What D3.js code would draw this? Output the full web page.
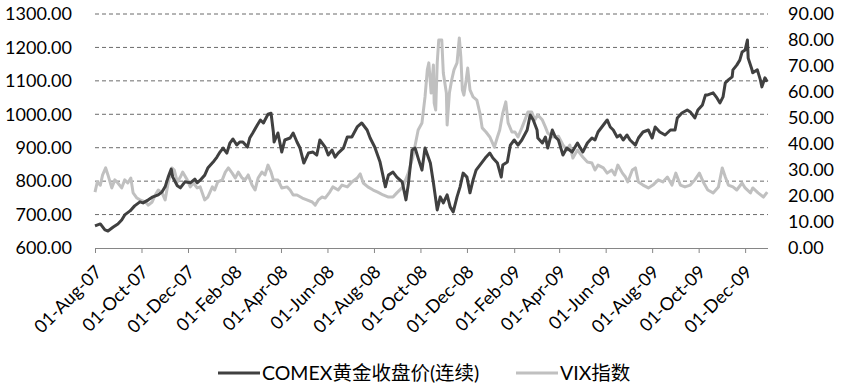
<!DOCTYPE html>
<html>
<head>
<meta charset="utf-8">
<script src="https://cdn.jsdelivr.net/npm/d3@7"></script>
<style>
  body { margin: 0; background: #fff; }
  svg text { font-family: Lato, "Noto Sans CJK SC", sans-serif; fill: #000; }
</style>
</head>
<body>
<svg id="chart" width="844" height="388"></svg>
<script>
"use strict";

// gold close (COMEX continuous)
let goldDates = [
  "2007-08-01", "2007-08-08", "2007-08-14", "2007-08-18", "2007-08-25", "2007-08-31", "2007-09-05", "2007-09-09",
  "2007-09-16", "2007-09-22", "2007-09-29", "2007-10-03", "2007-10-10", "2007-10-16", "2007-10-23", "2007-10-28",
  "2007-11-01", "2007-11-05", "2007-11-09", "2007-11-11", "2007-11-17", "2007-11-21", "2007-11-27", "2007-12-04",
  "2007-12-10", "2007-12-13", "2007-12-17", "2007-12-23", "2007-12-27", "2008-01-03", "2008-01-08", "2008-01-12",
  "2008-01-16", "2008-01-21", "2008-01-25", "2008-01-29", "2008-02-03", "2008-02-07", "2008-02-11", "2008-02-17",
  "2008-02-20", "2008-02-24", "2008-03-01", "2008-03-05", "2008-03-09", "2008-03-11", "2008-03-15", "2008-03-19",
  "2008-03-22", "2008-03-23", "2008-03-28", "2008-04-02", "2008-04-06", "2008-04-13", "2008-04-17", "2008-04-22",
  "2008-04-26", "2008-05-01", "2008-05-07", "2008-05-13", "2008-05-18", "2008-05-22", "2008-05-29", "2008-06-02",
  "2008-06-07", "2008-06-11", "2008-06-15", "2008-06-22", "2008-06-27", "2008-07-03", "2008-07-10", "2008-07-16",
  "2008-07-23", "2008-07-27", "2008-08-02", "2008-08-09", "2008-08-16", "2008-08-20", "2008-08-26", "2008-08-31",
  "2008-09-07", "2008-09-12", "2008-09-15", "2008-09-20", "2008-09-24", "2008-09-28", "2008-10-03", "2008-10-07",
  "2008-10-14", "2008-10-18", "2008-10-23", "2008-10-27", "2008-10-31", "2008-11-05", "2008-11-09", "2008-11-13",
  "2008-11-18", "2008-11-22", "2008-11-26", "2008-12-01", "2008-12-05", "2008-12-09", "2008-12-13", "2008-12-18",
  "2008-12-25", "2008-12-31", "2009-01-04", "2009-01-10", "2009-01-15", "2009-01-17", "2009-01-23", "2009-01-27",
  "2009-02-01", "2009-02-06", "2009-02-11", "2009-02-18", "2009-02-22", "2009-02-26", "2009-03-03", "2009-03-04",
  "2009-03-10", "2009-03-14", "2009-03-17", "2009-03-23", "2009-03-27", "2009-03-31", "2009-04-06", "2009-04-11",
  "2009-04-18", "2009-04-25", "2009-04-28", "2009-05-02", "2009-05-08", "2009-05-14", "2009-05-18", "2009-05-22",
  "2009-05-27", "2009-06-03", "2009-06-07", "2009-06-11", "2009-06-16", "2009-06-20", "2009-06-24", "2009-06-29",
  "2009-07-03", "2009-07-10", "2009-07-14", "2009-07-20", "2009-07-27", "2009-08-01", "2009-08-05", "2009-08-11",
  "2009-08-18", "2009-08-25", "2009-08-31", "2009-09-03", "2009-09-09", "2009-09-16", "2009-09-20", "2009-09-26",
  "2009-09-30", "2009-10-06", "2009-10-10", "2009-10-13", "2009-10-20", "2009-10-25", "2009-10-29", "2009-11-02",
  "2009-11-05", "2009-11-09", "2009-11-14", "2009-11-15", "2009-11-20", "2009-11-24", "2009-11-27", "2009-12-01",
  "2009-12-04", "2009-12-05", "2009-12-10", "2009-12-11", "2009-12-17", "2009-12-21", "2009-12-23", "2009-12-27",
  "2009-12-30"
];
let goldPrices = [
  666, 672, 654, 651, 663, 672, 684, 699,
  711, 726, 738, 735, 744, 753, 759, 768,
  783, 812, 836, 812, 786, 780, 798, 795,
  806, 795, 803, 818, 839, 857, 872, 887,
  899, 884, 914, 926, 908, 917, 917, 902,
  929, 944, 968, 983, 974, 983, 1000, 1003,
  947, 917, 944, 887, 923, 929, 944, 917,
  899, 854, 884, 887, 878, 923, 902, 878,
  893, 872, 884, 899, 932, 932, 962, 974,
  953, 929, 902, 857, 783, 818, 827, 812,
  798, 744, 789, 893, 899, 869, 833, 899,
  854, 795, 714, 753, 735, 759, 723, 708,
  753, 783, 824, 812, 765, 803, 833, 848,
  869, 884, 869, 854, 812, 848, 857, 908,
  923, 908, 923, 953, 998, 983, 953, 929,
  914, 932, 899, 953, 932, 923, 878, 899,
  887, 914, 902, 887, 914, 929, 923, 947,
  962, 983, 962, 953, 932, 938, 923, 938,
  923, 908, 929, 947, 953, 929, 962, 947,
  938, 953, 953, 989, 1004, 1013, 1007, 989,
  1013, 1028, 1058, 1058, 1064, 1049, 1034, 1052,
  1094, 1103, 1112, 1133, 1147, 1162, 1186, 1192,
  1222, 1168, 1133, 1124, 1133, 1103, 1082, 1109,
  1097
];

// VIX index
let vixDates = [
  "2007-08-01", "2007-08-04", "2007-08-08", "2007-08-11", "2007-08-15", "2007-08-18", "2007-08-23", "2007-08-27",
  "2007-08-31", "2007-09-05", "2007-09-09", "2007-09-13", "2007-09-17", "2007-09-20", "2007-09-25", "2007-09-29",
  "2007-10-06", "2007-10-10", "2007-10-15", "2007-10-19", "2007-10-23", "2007-10-28", "2007-11-01", "2007-11-05",
  "2007-11-10", "2007-11-13", "2007-11-17", "2007-11-21", "2007-11-24", "2007-11-30", "2007-12-04", "2007-12-08",
  "2007-12-13", "2007-12-17", "2007-12-23", "2007-12-27", "2008-01-02", "2008-01-05", "2008-01-09", "2008-01-15",
  "2008-01-19", "2008-01-23", "2008-01-28", "2008-02-01", "2008-02-05", "2008-02-10", "2008-02-14", "2008-02-18",
  "2008-02-23", "2008-02-27", "2008-03-02", "2008-03-07", "2008-03-11", "2008-03-15", "2008-03-19", "2008-03-22",
  "2008-03-28", "2008-04-02", "2008-04-09", "2008-04-13", "2008-04-17", "2008-04-22", "2008-04-29", "2008-05-05",
  "2008-05-12", "2008-05-16", "2008-05-20", "2008-05-25", "2008-05-29", "2008-06-04", "2008-06-08", "2008-06-15",
  "2008-06-20", "2008-06-27", "2008-07-03", "2008-07-10", "2008-07-14", "2008-07-18", "2008-07-24", "2008-07-31",
  "2008-08-06", "2008-08-13", "2008-08-20", "2008-08-26", "2008-08-31", "2008-09-08", "2008-09-15", "2008-09-21",
  "2008-09-28", "2008-10-03", "2008-10-07", "2008-10-10", "2008-10-12", "2008-10-15", "2008-10-18", "2008-10-19",
  "2008-10-21", "2008-10-23", "2008-10-25", "2008-10-29", "2008-10-31", "2008-11-04", "2008-11-05", "2008-11-08",
  "2008-11-11", "2008-11-14", "2008-11-18", "2008-11-21", "2008-11-23", "2008-11-25", "2008-11-27", "2008-11-30",
  "2008-12-02", "2008-12-05", "2008-12-09", "2008-12-14", "2008-12-18", "2008-12-21", "2008-12-26", "2008-12-31",
  "2009-01-06", "2009-01-10", "2009-01-13", "2009-01-17", "2009-01-21", "2009-01-24", "2009-01-29", "2009-02-02",
  "2009-02-06", "2009-02-11", "2009-02-15", "2009-02-19", "2009-02-24", "2009-02-28", "2009-03-04", "2009-03-10",
  "2009-03-14", "2009-03-17", "2009-03-24", "2009-03-31", "2009-04-06", "2009-04-11", "2009-04-15", "2009-04-19",
  "2009-04-25", "2009-04-28", "2009-05-02", "2009-05-08", "2009-05-14", "2009-05-18", "2009-05-22", "2009-05-29",
  "2009-06-03", "2009-06-09", "2009-06-13", "2009-06-17", "2009-06-23", "2009-06-27", "2009-06-30", "2009-07-06",
  "2009-07-10", "2009-07-14", "2009-07-20", "2009-07-27", "2009-08-02", "2009-08-09", "2009-08-15", "2009-08-21",
  "2009-08-27", "2009-09-01", "2009-09-07", "2009-09-13", "2009-09-20", "2009-09-26", "2009-10-02", "2009-10-07",
  "2009-10-13", "2009-10-20", "2009-10-27", "2009-11-01", "2009-11-05", "2009-11-09", "2009-11-15", "2009-11-20",
  "2009-11-27", "2009-12-01", "2009-12-08", "2009-12-11", "2009-12-18", "2009-12-25", "2009-12-30"
];
let vixValues = [
  21.5, 25.4, 24.2, 28.1, 30.8, 28.1, 23.1, 26.2,
  25.0, 23.1, 26.2, 25.0, 26.9, 21.2, 19.2, 18.5,
  17.7, 16.5, 17.7, 20.4, 22.3, 21.2, 18.5, 25.0,
  30.8, 30.0, 25.4, 27.3, 29.2, 26.2, 23.5, 25.0,
  23.1, 23.5, 18.5, 19.6, 23.5, 22.3, 25.4, 26.2,
  29.2, 30.8, 28.8, 26.9, 29.2, 26.9, 26.2, 28.1,
  24.2, 22.3, 26.9, 29.2, 28.1, 31.9, 29.2, 26.2,
  26.2, 23.1, 23.5, 22.3, 20.4, 20.4, 19.2, 18.5,
  17.7, 16.5, 18.5, 19.6, 19.2, 21.5, 23.5, 22.3,
  24.2, 23.5, 25.4, 26.9, 28.5, 25.0, 23.5, 22.3,
  21.5, 20.4, 19.6, 19.6, 21.2, 23.5, 28.8, 35.0,
  45.4, 48.1, 58.1, 68.5, 71.2, 59.6, 70.4, 55.8,
  53.1, 71.2, 80.0, 80.0, 67.3, 59.6, 47.3, 59.6,
  64.6, 68.5, 71.2, 80.8, 73.5, 60.8, 58.8, 64.6,
  69.2, 60.8, 58.1, 56.9, 51.9, 46.2, 44.6, 42.7,
  38.8, 42.7, 45.4, 51.9, 56.2, 48.1, 44.6, 44.6,
  42.7, 46.2, 49.2, 52.3, 52.3, 49.2, 51.2, 49.2,
  46.5, 44.2, 42.7, 43.0, 39.6, 37.7, 39.6, 34.6,
  37.7, 36.5, 35.0, 33.1, 32.7, 30.0, 31.9, 30.8,
  28.8, 30.0, 28.1, 31.9, 28.8, 27.3, 25.4, 30.0,
  30.8, 25.4, 24.2, 23.1, 24.2, 26.2, 25.4, 27.3,
  24.2, 28.8, 24.2, 23.5, 24.2, 26.2, 28.8, 25.4,
  22.3, 21.2, 23.5, 30.8, 27.3, 24.2, 23.5, 22.3,
  25.0, 23.1, 21.2, 23.1, 21.2, 19.6, 21.5
];

let goldTicks = [600, 700, 800, 900, 1000, 1100, 1200, 1300];
let vixTicks = [0, 10, 20, 30, 40, 50, 60, 70, 80, 90];
let dateTickLabels = ["01-Aug-07", "01-Oct-07", "01-Dec-07", "01-Feb-08", "01-Apr-08", "01-Jun-08", "01-Aug-08",
  "01-Oct-08", "01-Dec-08", "01-Feb-09", "01-Apr-09", "01-Jun-09", "01-Aug-09", "01-Oct-09", "01-Dec-09"];
let seriesNames = ["COMEX黄金收盘价(连续)", "VIX指数"];

(function () {
  let parseDate = d3.timeParse("%Y-%m-%d");
  let parseTick = d3.timeParse("%d-%b-%y");

  let gold = goldDates.map((d, i) => ({ date: parseDate(d), value: goldPrices[i] }));
  let vix = vixDates.map((d, i) => ({ date: parseDate(d), value: vixValues[i] }));
  let tickDates = dateTickLabels.map(parseTick);

  let left = 95, right = 768, top = 14, bottom = 248;

  let svg = d3.select('#chart');

  let x = d3.scaleTime()
    .domain([parseDate("2007-08-01"), parseDate("2009-12-31")])
    .range([left, right]);
  let yGold = d3.scaleLinear().domain([600, 1300]).range([bottom, top]);
  let yVix = d3.scaleLinear().domain([0, 90]).range([bottom, top]);

  // dashed gridlines
  svg.append('g')
    .selectAll('line')
    .data(goldTicks.filter(t => t > 600))
    .enter()
    .append('line')
    .attr('x1', left)
    .attr('x2', right)
    .attr('y1', d => yGold(d))
    .attr('y2', d => yGold(d))
    .style('stroke', '#6b6b6b')
    .style('stroke-width', 1)
    .style('stroke-dasharray', '4,3');

  // left axis labels
  let yAxisL = d3.axisLeft(yGold).tickValues(goldTicks).tickFormat(d3.format('.2f')).tickSize(0).tickPadding(23);
  let gL = svg.append('g').attr('transform', 'translate(' + left + ',0)').call(yAxisL);
  gL.select('.domain').remove();
  gL.selectAll('text').style('font-size', '18px');

  // right axis labels
  let yAxisR = d3.axisRight(yVix).tickValues(vixTicks).tickFormat(d3.format('.2f')).tickSize(0).tickPadding(20);
  let gR = svg.append('g').attr('transform', 'translate(' + right + ',0)').call(yAxisR);
  gR.select('.domain').remove();
  gR.selectAll('text').style('font-size', '18px');

  // bottom axis
  let xAxis = d3.axisBottom(x).tickValues(tickDates).tickSize(5).tickSizeOuter(0).tickFormat('');
  let gX = svg.append('g').attr('transform', 'translate(0,' + bottom + ')').call(xAxis);
  gX.select('.domain').attr('d', 'M' + left + ',0.5H' + right).style('stroke', '#868686');
  gX.selectAll('.tick line').style('stroke', '#868686');

  svg.append('g')
    .selectAll('text')
    .data(tickDates)
    .enter()
    .append('text')
    .attr('transform', d => 'translate(' + (x(d) + 8) + ',' + (bottom + 25) + ') rotate(-45)')
    .attr('text-anchor', 'end')
    .style('font-size', '18px')
    .text((d, i) => dateTickLabels[i]);

  // lines
  let vixLine = d3.line().x(d => x(d.date)).y(d => yVix(d.value));
  let goldLine = d3.line().x(d => x(d.date)).y(d => yGold(d.value));

  svg.append('path')
    .datum(vix)
    .attr('d', vixLine)
    .style('fill', 'none')
    .style('stroke', '#c0c0c0')
    .style('stroke-width', 3)
    .style('stroke-linejoin', 'round');

  svg.append('path')
    .datum(gold)
    .attr('d', goldLine)
    .style('fill', 'none')
    .style('stroke', '#404040')
    .style('stroke-width', 3)
    .style('stroke-linejoin', 'round');

  // legend
  let legend = [
    { name: seriesNames[0], color: '#404040', x: 218 },
    { name: seriesNames[1], color: '#c0c0c0', x: 516 }
  ];
  let lg = svg.append('g').selectAll('g').data(legend).enter().append('g')
    .attr('transform', d => 'translate(' + d.x + ',373)');
  lg.append('line')
    .attr('x1', 0).attr('x2', 42)
    .style('stroke', d => d.color)
    .style('stroke-width', 3);
  lg.append('text')
    .attr('x', 44)
    .attr('dy', '0.35em')
    .style('font-size', '19.5px')
    .text(d => d.name);
})();
</script>
</body>
</html>
